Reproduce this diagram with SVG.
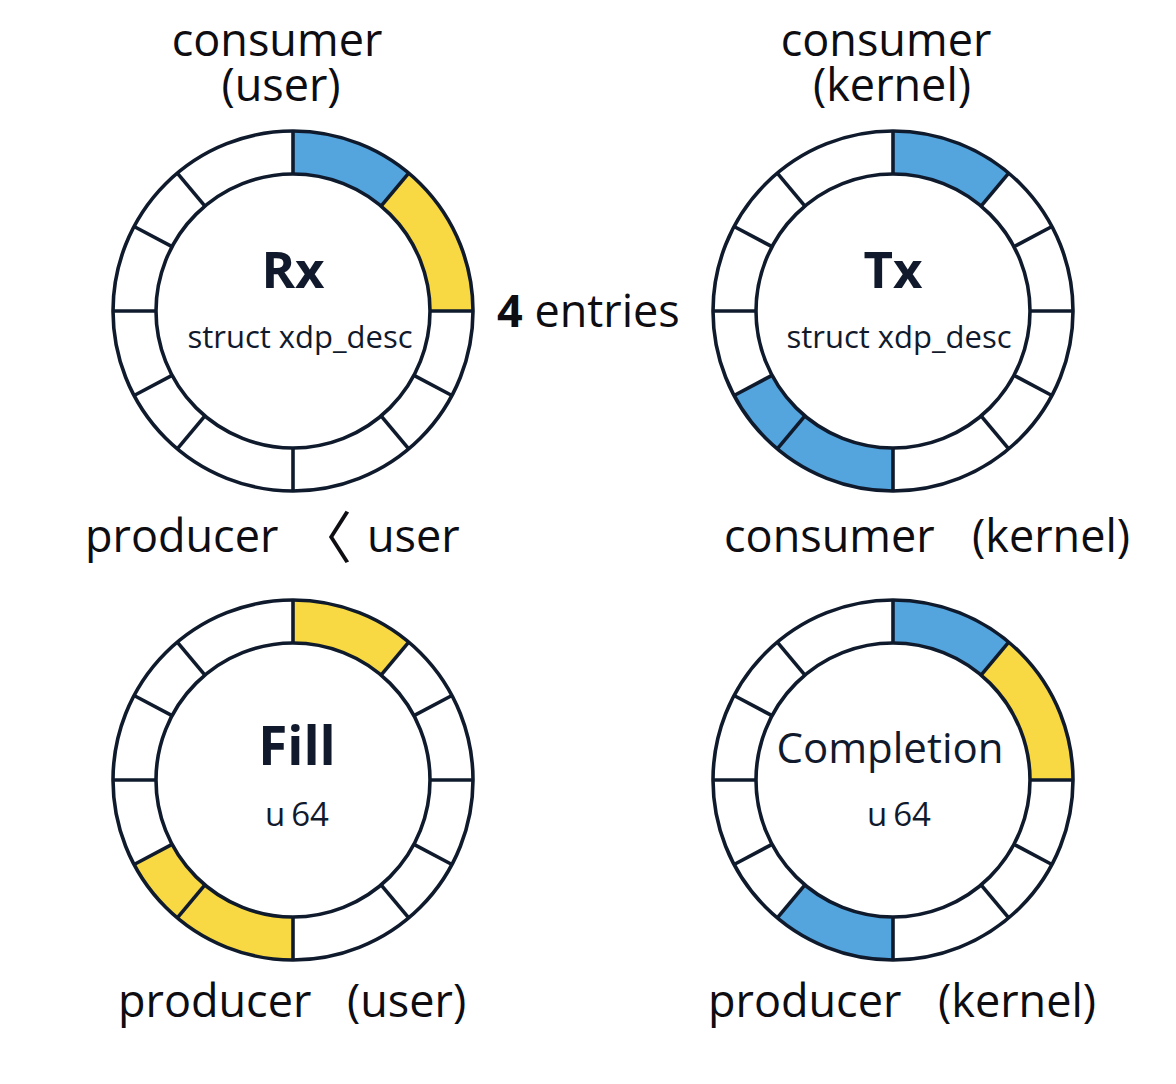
<svg xmlns="http://www.w3.org/2000/svg" width="1176" height="1084" viewBox="0 0 1176 1084">
<style>
.bg{fill:#ffffff}
.ring{fill:none;stroke:#0f1b2d;stroke-width:3.6}
.div{stroke:#0f1b2d;stroke-width:3.6;stroke-linecap:butt}
.blue{fill:#54a4de}
.yellow{fill:#f8d944}
.title{font-family:"Open Sans","Noto Sans",sans-serif;font-weight:bold;fill:#111a2c;text-anchor:middle}
.sub{font-family:"Open Sans","Noto Sans",sans-serif;fill:#111a2c;text-anchor:middle}
.lbl{font-family:"Open Sans","Noto Sans",sans-serif;font-size:45px;fill:#0d0d12}
</style>
<defs>
<g id="divs">
<line class="div" x1="0" y1="-137" x2="0" y2="-180"/>
<line class="div" x1="88.06" y1="-104.94" x2="115.70" y2="-137.88"/>
<line class="div" x1="137" y1="0" x2="180" y2="0"/>
<line class="div" x1="120.96" y1="64.32" x2="158.92" y2="84.51"/>
<line class="div" x1="88.06" y1="104.94" x2="115.70" y2="137.88"/>
<line class="div" x1="0" y1="137" x2="0" y2="180"/>
<line class="div" x1="-88.06" y1="104.94" x2="-115.70" y2="137.88"/>
<line class="div" x1="-120.96" y1="64.32" x2="-158.92" y2="84.51"/>
<line class="div" x1="-137" y1="0" x2="-180" y2="0"/>
<line class="div" x1="-120.96" y1="-64.32" x2="-158.92" y2="-84.51"/>
<line class="div" x1="-88.06" y1="-104.94" x2="-115.70" y2="-137.88"/>
</g>
<line id="div62" class="div" x1="120.96" y1="-64.32" x2="158.92" y2="-84.51"/>
<g id="circles">
<circle class="ring" cx="0" cy="0" r="180"/>
<circle class="ring" cx="0" cy="0" r="137"/>
</g>
<path id="seg0to40" d="M0,-180 A180,180 0 0 1 115.70,-137.88 L88.06,-104.94 A137,137 0 0 0 0,-137 Z"/>
<path id="seg40to90" d="M115.70,-137.88 A180,180 0 0 1 180,0 L137,0 A137,137 0 0 0 88.06,-104.94 Z"/>
<path id="seg180to242" d="M0,180 A180,180 0 0 1 -158.92,84.51 L-120.96,64.32 A137,137 0 0 0 0,137 Z"/>
<path id="seg180to220" d="M0,180 A180,180 0 0 1 -115.70,137.88 L-88.06,104.94 A137,137 0 0 0 0,137 Z"/>
</defs>
<rect class="bg" x="0" y="0" width="1176" height="1084"/>

<g id="rx-ring" transform="translate(293,311)">
<use href="#seg0to40" class="blue"/>
<use href="#seg40to90" class="yellow"/>
<use href="#divs"/>
<use href="#circles"/>
<text class="title" x="0" y="-23" font-size="51">Rx</text>
<text class="sub" x="7" y="37" font-size="31">struct xdp_desc</text>
</g>

<g id="tx-ring" transform="translate(893,311)">
<use href="#seg0to40" class="blue"/>
<use href="#seg180to242" class="blue"/>
<use href="#divs"/>
<use href="#div62"/>
<use href="#circles"/>
<text class="title" x="0" y="-23" font-size="51">Tx</text>
<text class="sub" x="6" y="37" font-size="31">struct xdp_desc</text>
</g>

<g id="fill-ring" transform="translate(293,780)">
<use href="#seg0to40" class="yellow"/>
<use href="#seg180to242" class="yellow"/>
<use href="#divs"/>
<use href="#div62"/>
<use href="#circles"/>
<text class="title" x="4" y="-15" font-size="53">Fill</text>
<text class="sub" x="4" y="46" font-size="33">u<tspan dx="6">64</tspan></text>
</g>

<g id="completion-ring" transform="translate(893,780)">
<use href="#seg0to40" class="blue"/>
<use href="#seg40to90" class="yellow"/>
<use href="#seg180to220" class="blue"/>
<use href="#divs"/>
<use href="#circles"/>
<text class="sub" x="-3" y="-17" font-size="42">Completion</text>
<text class="sub" x="6" y="46" font-size="33">u<tspan dx="6">64</tspan></text>
</g>

<g id="labels">
<text class="lbl" x="277" y="56" text-anchor="middle">consumer</text>
<text class="lbl" x="281" y="101" text-anchor="middle">(user)</text>
<text class="lbl" x="886" y="56" text-anchor="middle">consumer</text>
<text class="lbl" x="892" y="101" text-anchor="middle">(kernel)</text>
<text class="lbl" x="497" y="327" font-size="44"><tspan font-weight="bold">4</tspan> entries</text>
<text class="lbl" y="552"><tspan x="85">producer</tspan><tspan x="296" y="558" font-family="'Noto Sans CJK SC',sans-serif" font-size="56">〈</tspan><tspan x="367" y="552">user</tspan></text>
<text class="lbl" y="552"><tspan x="724">consumer</tspan><tspan x="972">(kernel)</tspan></text>
<text class="lbl" y="1017"><tspan x="118">producer</tspan><tspan x="347">(user)</tspan></text>
<text class="lbl" y="1017"><tspan x="708">producer</tspan><tspan x="938">(kernel)</tspan></text>
</g>
</svg>
